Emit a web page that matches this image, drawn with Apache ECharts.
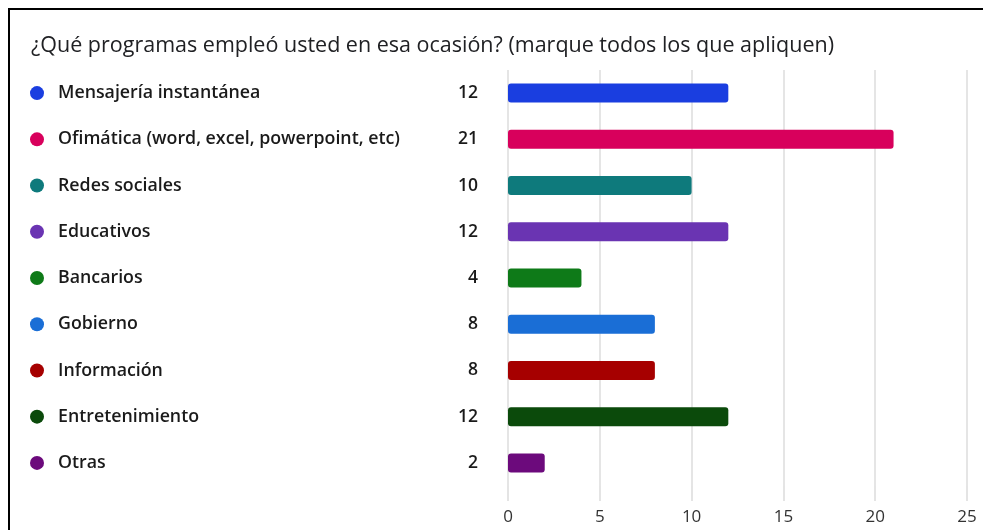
<!DOCTYPE html>
<html>
<head>
<meta charset="utf-8">
<script src="https://cdn.jsdelivr.net/npm/echarts@6/dist/echarts.min.js"></script>
<style>
  html, body { margin: 0; padding: 0; background: #fff; }
  #demo { width: 983px; height: 530px; }
</style>
</head>
<body>
<div id="demo"></div>
<script>
var titulo = '¿Qué programas empleó usted en esa ocasión? (marque todos los que apliquen)';
var categorias = ['Mensajería instantánea', 'Ofimática (word, excel, powerpoint, etc)', 'Redes sociales',
    'Educativos', 'Bancarios', 'Gobierno', 'Información', 'Entretenimiento', 'Otras'];
var valores = [12, 21, 10, 12, 4, 8, 8, 12, 2];
var colores = ['#1a3ee0', '#d8005c', '#0e7a7c', '#6a34b2', '#0e7a18', '#1a6ed6', '#a60000', '#0b4a0b', '#6c0a7c'];
var ticksX = [0, 5, 10, 15, 20, 25];

window.onload = function() {
    var rich = {
        n: { width: 395, fontSize: 17.8, fontWeight: 600, color: '#1a1a1a', fontFamily: 'Open Sans', padding: [0, 0, 0, 14] },
        v: { width: 25, align: 'right', fontSize: 17.5, fontWeight: 600, color: '#1a1a1a', fontFamily: 'Open Sans' }
    };
    for (var i = 0; i < colores.length; i++) {
        rich['d' + i] = { width: 14, height: 14, borderRadius: 7, backgroundColor: colores[i] };
    }
    var option = {
        backgroundColor: '#fff',
        animation: false,
        title: {
            text: titulo,
            left: 26,
            top: 30,
            textStyle: { fontFamily: 'Open Sans', fontSize: 21.5, fontWeight: 'normal', color: '#202124' }
        },
        graphic: [{
            type: 'rect',
            shape: { x: 9, y: 9, width: 1100, height: 700 },
            style: { fill: 'none', stroke: '#000', lineWidth: 2 }
        }],
        grid: { left: 508, right: 16, top: 70, height: 416 },
        xAxis: {
            type: 'value',
            min: 0,
            max: ticksX[ticksX.length - 1],
            interval: 5,
            axisLine: { show: false },
            axisTick: { show: true, length: 15, lineStyle: { color: '#dcdcdc', width: 1.5 } },
            splitLine: { lineStyle: { color: '#dcdcdc', width: 1.5 } },
            axisLabel: { margin: 23, fontSize: 17, color: '#333', fontFamily: 'Open Sans' }
        },
        yAxis: {
            type: 'category',
            inverse: true,
            data: categorias,
            axisLine: { show: false },
            axisTick: { show: false },
            axisLabel: {
                align: 'left',
                margin: 478,
                formatter: function(val, idx) {
                    return '{d' + idx + '| }{n|' + val + '}{v|' + valores[idx] + '}';
                },
                rich: rich
            }
        },
        series: [{
            type: 'bar',
            barWidth: 19,
            data: valores.map(function(v, i) {
                return { value: v, itemStyle: { color: colores[i], borderRadius: 3 } };
            })
        }]
    };
    var myCharts = echarts.init(document.getElementById('demo'));
    myCharts.setOption(option);
};
</script>
</body>
</html>
